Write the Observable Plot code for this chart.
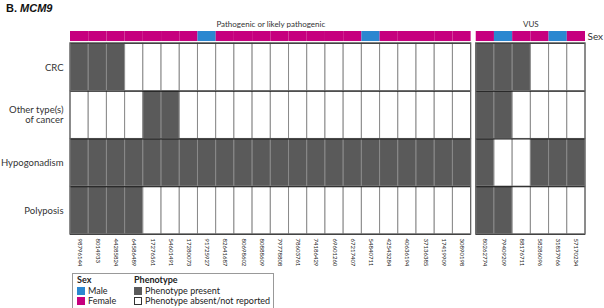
<!DOCTYPE html>
<html>
<head>
<meta charset="utf-8">
<script src="https://cdn.jsdelivr.net/npm/d3@7"></script>
<script src="https://cdn.jsdelivr.net/npm/@observablehq/plot@0.6"></script>
<style>
  body { margin: 0; background: #fff; font-family: Lato, sans-serif; }
  #wrap { position: relative; width: 604px; height: 308px; overflow: hidden; }
  #title { position: absolute; left: 6px; top: 2px; font: bold 11px "Liberation Sans", Arial, sans-serif; color: #111; }
  #chart { position: absolute; left: 0; top: 0; }
  #legend { position: absolute; left: 72px; top: 273px; width: 202px; height: 37px; border: 1px solid #999; box-sizing: border-box;
            font-size: 9px; color: #222; line-height: 10.5px; }
  .col { position: absolute; top: 1px; }
  .hd { font-weight: bold; }
  .sw { display: inline-block; width: 8px; height: 8px; vertical-align: -1px; margin-right: 3px; box-sizing: border-box; }
</style>
</head>
<body>
<div id="wrap">
  <div id="chart"></div>
  <div id="title">B. <i>MCM9</i></div>
  <div id="legend"></div>
</div>
<script>
// ---- data ----
const groups = ["Pathogenic or likely pathogenic", "VUS"];
const idsPath = ["98796144","8014933","44285824","64586489","17276561","54601491","17280073","91725927","82641687","80698602","80888609","79778808","78603761","74186429","69601260","67217407","54840711","42543284","40636194","37136385","17419909","30890198"];
const idsVus = ["80262774","79409209","88176711","58286096","31857966","57170234"];
const sexPath = ["Female","Female","Female","Female","Female","Female","Female","Male","Female","Female","Female","Female","Female","Female","Female","Female","Male","Female","Female","Female","Female","Female"];
const sexVus = ["Female","Male","Female","Female","Male","Female"];
const phenotypes = ["CRC", "Other type(s)\nof cancer", "Hypogonadism", "Polyposis"];
const crcPath   = [1,1,1,0,0,0,0,0,0,0,0,0,0,0,0,0,0,0,0,0,0,0];
const otherPath = [0,0,0,0,1,1,0,0,0,0,0,0,0,0,0,0,0,0,0,0,0,0];
const hypoPath  = [1,1,1,1,1,1,1,1,1,1,1,1,1,1,1,1,1,1,1,1,1,1];
const polyPath  = [1,1,1,1,0,0,0,0,0,0,0,0,0,0,0,0,0,0,0,0,0,0];
const crcVus   = [1,1,1,0,0,0];
const otherVus = [1,1,0,0,0,0];
const hypoVus  = [1,0,0,1,1,1];
const polyVus  = [1,1,0,0,0,0];

// ---- build tables ----
const GAP = 0.28;
const colors = {Female: "#c6007e", Male: "#2b87d0"};
const PRESENT = "#5a5a5a";
const groupDefs = [
  {name: groups[0], ids: idsPath, sex: sexPath, rows: [crcPath, otherPath, hypoPath, polyPath], offset: 0},
  {name: groups[1], ids: idsVus, sex: sexVus, rows: [crcVus, otherVus, hypoVus, polyVus], offset: idsPath.length + GAP}
];
const columns = [], cells = [], groupSpans = [];
for (const g of groupDefs) {
  g.ids.forEach((id, i) => {
    const x1 = g.offset + i;
    columns.push({id, sex: g.sex[i], x1, x2: x1 + 1, xc: x1 + 0.5});
    g.rows.forEach((vals, r) => cells.push({id, row: r, y1: r, y2: r + 1, x1, x2: x1 + 1, present: vals[i]}));
  });
  groupSpans.push({name: g.name, x1: g.offset, x2: g.offset + g.ids.length, xc: g.offset + g.ids.length / 2});
}
const rowLines = [];
for (const s of groupSpans) for (let r = 0; r <= phenotypes.length; r++) rowLines.push({y: r, x1: s.x1, x2: s.x2});
const labelByPos = new Map(columns.map(c => [c.xc, c.id]));
const groupByPos = new Map(groupSpans.map(s => [s.xc, s.name]));
const SEX_TOP = -0.25, SEX_BOT = -0.04;

const chart = Plot.plot({
  width: 604, height: 272,
  marginLeft: 70, marginRight: 19, marginTop: 31, marginBottom: 38,
  style: {fontFamily: "Lato, sans-serif", color: "#333", background: "transparent"},
  x: {type: "linear", domain: [0, idsPath.length + GAP + idsVus.length]},
  y: {type: "linear", domain: [SEX_TOP, phenotypes.length], reverse: true},
  marks: [
    Plot.rect(columns, {x1: "x1", x2: "x2", y1: SEX_TOP, y2: SEX_BOT, fill: d => colors[d.sex]}),
    Plot.rect(cells, {x1: "x1", x2: "x2", y1: "y1", y2: "y2", fill: d => d.present ? PRESENT : "#fff", stroke: "#8a8a8a", strokeWidth: 1}),
    Plot.ruleY(rowLines, {y: "y", x1: "x1", x2: "x2", stroke: "#111", strokeWidth: 1}),
    Plot.rect(groupSpans, {x1: "x1", x2: "x2", y1: 0, y2: phenotypes.length, fill: "none", stroke: "#666", strokeWidth: 1.2}),
    Plot.axisY({ticks: phenotypes.map((_, i) => i + 0.5), tickFormat: d => phenotypes[Math.floor(d)], tickSize: 0, tickPadding: 7, label: null, fontSize: 9.5, lineHeight: 1.05}),
    Plot.axisY({anchor: "right", ticks: [(SEX_TOP + SEX_BOT) / 2], tickFormat: () => "Sex", tickSize: 0, tickPadding: 2, label: null, fontSize: 10}),
    Plot.axisX({anchor: "top", ticks: groupSpans.map(s => s.xc), tickFormat: d => groupByPos.get(d), tickSize: 0, tickPadding: 5, label: null, fontSize: 8}),
    Plot.axisX({anchor: "bottom", ticks: columns.map(c => c.xc), tickFormat: d => labelByPos.get(d), tickRotate: 90, tickSize: 0, tickPadding: 4, label: null, fontSize: 6, fill: "#222"})
  ]
});
document.getElementById("chart").appendChild(chart);

// ---- legend ----
const legend = document.getElementById("legend");
legend.innerHTML = `
  <div class="col" style="left:4px">
    <div class="hd">Sex</div>
    <div><span class="sw" style="background:${colors.Male}"></span>Male</div>
    <div><span class="sw" style="background:${colors.Female}"></span>Female</div>
  </div>
  <div class="col" style="left:61px">
    <div class="hd">Phenotype</div>
    <div><span class="sw" style="background:${PRESENT}"></span>Phenotype present</div>
    <div><span class="sw" style="background:#fff;border:1px solid #333"></span>Phenotype absent/not reported</div>
  </div>`;
</script>
</body>
</html>
